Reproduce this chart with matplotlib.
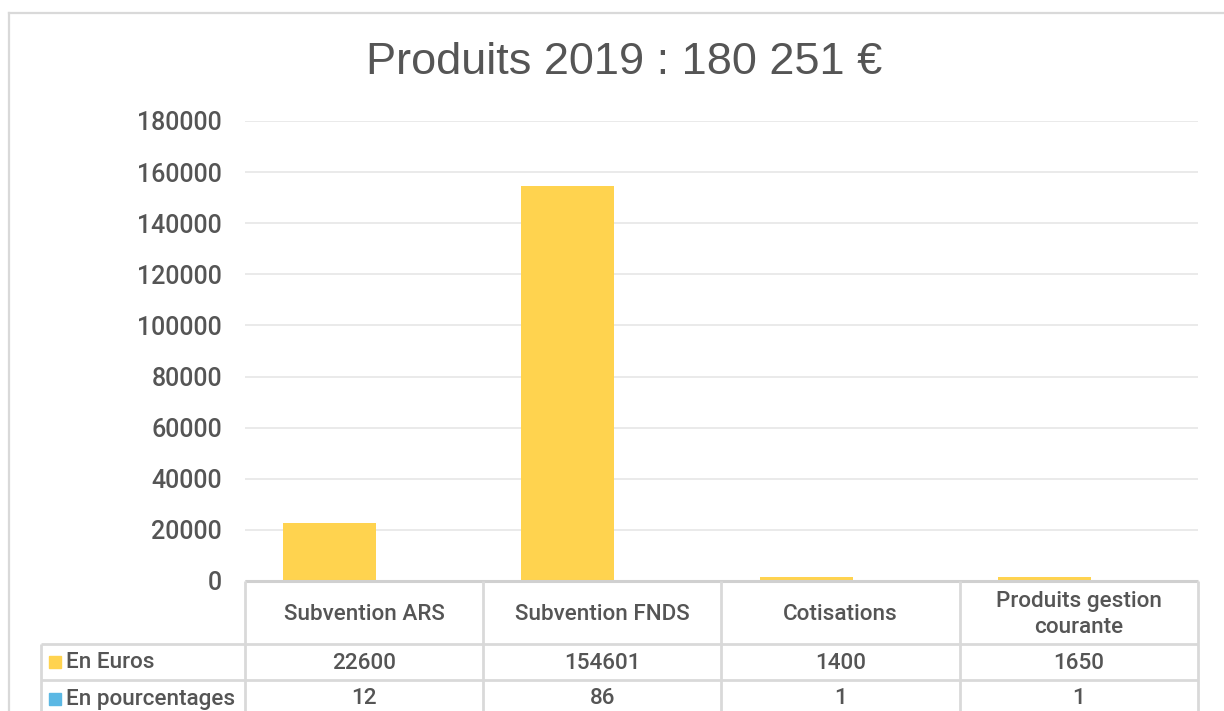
import matplotlib
matplotlib.use("Agg")
import matplotlib.pyplot as plt
from matplotlib.patches import Rectangle
from matplotlib.lines import Line2D

# ---- data ----
categories = ["Subvention ARS", "Subvention FNDS", "Cotisations", "Produits gestion\ncourante"]
euros = [22600, 154601, 1400, 1650]
pourcentages = [12, 86, 1, 1]
series_names = ["En Euros", "En pourcentages"]
title = "Produits 2019 : 180 251 €"
yticks = list(range(0, 180001, 20000))

W, H = 1224, 711
DPI = 100
fig = plt.figure(figsize=(W / DPI, H / DPI), dpi=DPI)
fig.patch.set_facecolor("white")

TXT = "#555555"
GRID = "#e8e8e8"
TBL = "#d9d9d9"
YEL = "#FFD34F"
BLU = "#5BB8E4"
FONT = ["Roboto", "DejaVu Sans"]


def fx(px):
    return px / W


def fy(py):
    return 1 - py / H


# outer chart border (left + top visible)
fig.add_artist(Line2D([fx(8.5), fx(8.5)], [fy(12.5), fy(720)], color="#d9d9d9", lw=1.6,
                      transform=fig.transFigure))
fig.add_artist(Line2D([fx(8.5), fx(1240)], [fy(12.5), fy(12.5)], color="#d9d9d9", lw=1.6,
                      transform=fig.transFigure))

# plot area
L, R, T, B = 245, 1198, 121, 581
ax = fig.add_axes([fx(L), fy(B), fx(R) - fx(L), fy(T) - fy(B)])
n = len(categories)
xs = list(range(n))
bw = 0.39
ax.bar([x - 0.34 for x in xs], euros, width=bw, align="edge", color=YEL, zorder=3)
ax.bar([x + 0.05 for x in xs], pourcentages, width=bw, align="edge", color=BLU, zorder=3)
ax.set_xlim(-0.5, n - 0.5)
ax.set_ylim(0, 180000)
ax.set_yticks(yticks)
ax.set_yticklabels([str(v) for v in yticks], fontsize=18, color=TXT, family=FONT,
                   fontweight="medium")
ax.tick_params(axis="y", length=0, pad=16.5)
ax.set_xticks([])
for s in ax.spines.values():
    s.set_visible(False)
ax.grid(axis="y", color=GRID, lw=1.3, zorder=0)
ax.set_facecolor("none")

fig.text(fx(624), fy(63), title, ha="center", va="center", fontsize=32.5, color=TXT,
         family=["Liberation Sans", "DejaVu Sans"])

# ---- data table ----
col_edges_px = [ax.transData.transform((x - 0.5, 0))[0] for x in range(n + 1)]
row_y = [581, 644, 679.5, 716]
label_left = 41


def hline(x0, x1, y, lw=2.0, c=TBL):
    fig.add_artist(Line2D([fx(x0), fx(x1)], [fy(y), fy(y)], color=c, lw=lw,
                          transform=fig.transFigure, solid_capstyle="butt"))


def vline(x, y0, y1, lw=2.0, c=TBL):
    fig.add_artist(Line2D([fx(x), fx(x)], [fy(y0), fy(y1)], color=c, lw=lw,
                          transform=fig.transFigure, solid_capstyle="butt"))


hline(col_edges_px[0], col_edges_px[-1], row_y[0], lw=2.2, c="#d0d0d0")
hline(label_left, col_edges_px[-1], row_y[1])
hline(label_left, col_edges_px[-1], row_y[2])
for c in col_edges_px:
    vline(c, row_y[0], row_y[3])
vline(label_left, row_y[1], row_y[3])

tfs = 16.2
for i, cat in enumerate(categories):
    cx = (col_edges_px[i] + col_edges_px[i + 1]) / 2
    fig.text(fx(cx), fy((row_y[0] + row_y[1]) / 2 + 2), cat, ha="center", va="center",
             fontsize=tfs, color=TXT, family=FONT, fontweight="medium", linespacing=1.3)
    fig.text(fx(cx), fy((row_y[1] + row_y[2]) / 2 + 2), str(euros[i]), ha="center",
             va="center", fontsize=tfs, color=TXT, family=FONT, fontweight="medium")
    fig.text(fx(cx), fy((row_y[2] + row_y[3]) / 2 + 1), str(pourcentages[i]), ha="center",
             va="center", fontsize=tfs, color=TXT, family=FONT, fontweight="medium")

for r, (name, col) in enumerate(zip(series_names, [YEL, BLU])):
    yc = (row_y[1 + r] + row_y[2 + r]) / 2 + (1 if r else 0)
    fig.add_artist(Rectangle((fx(49), fy(yc + 6)), fx(12), fy(0) - fy(12), color=col,
                             transform=fig.transFigure))
    fig.text(fx(66), fy(yc + 1), name, ha="left", va="center", fontsize=tfs, color=TXT,
             family=FONT, fontweight="medium")

fig.savefig("out.png", dpi=DPI)
